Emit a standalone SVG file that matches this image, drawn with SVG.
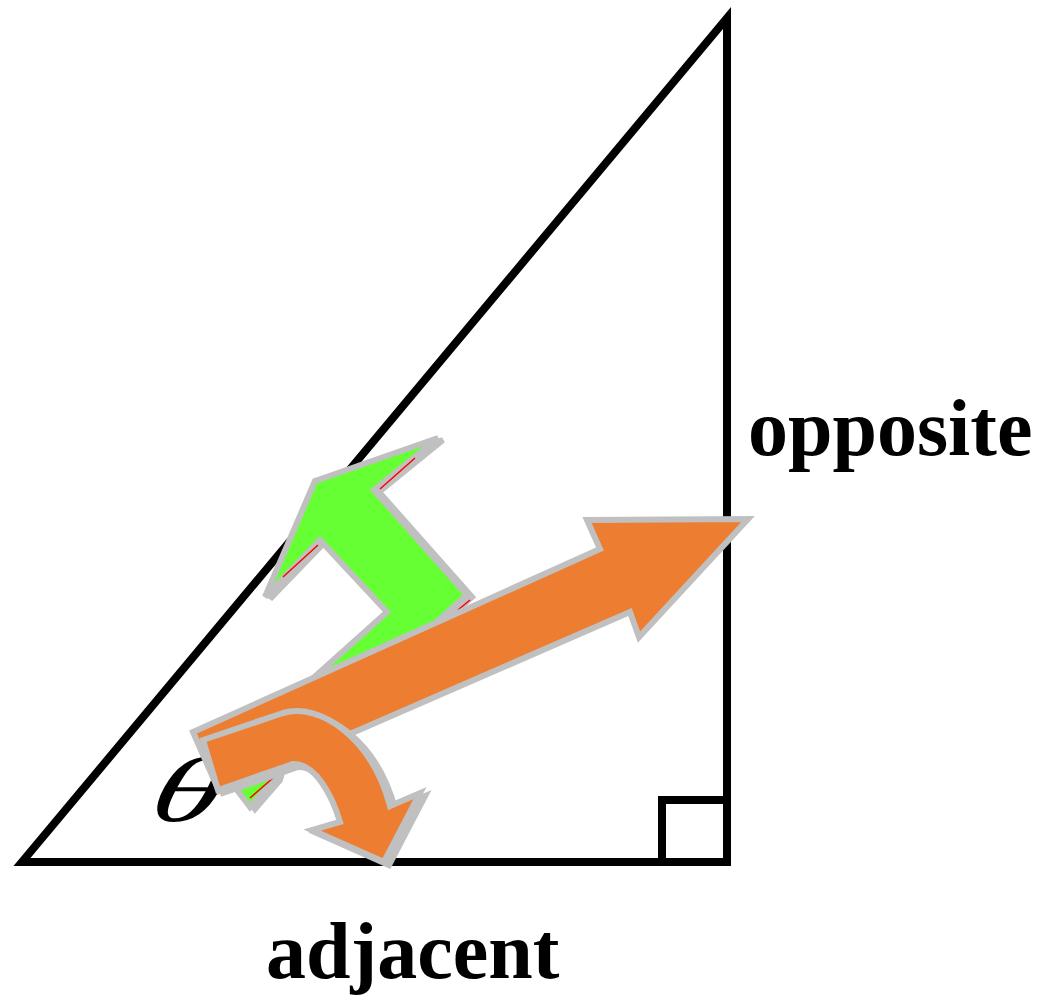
<svg xmlns="http://www.w3.org/2000/svg" width="1045" height="1000" viewBox="0 0 1045 1000">
<style>
.tri{fill:none;stroke:#000;stroke-width:8;stroke-linejoin:miter}
.lbl{font-family:"Liberation Serif","Times New Roman",serif;font-weight:bold;font-size:80px;fill:#000}
.ang{font-family:"Liberation Serif","Times New Roman",serif;font-style:italic;font-size:92px;fill:#000}
.shadow{fill:#c0c0c0;stroke:#c0c0c0;stroke-width:6;stroke-linejoin:miter}
.green{fill:#66ff33;stroke:#c0c0c0;stroke-width:6;stroke-linejoin:miter}
.orange{fill:#ed7d31;stroke:#c0c0c0;stroke-width:6;stroke-linejoin:miter}
.red{stroke:#ff0000;stroke-width:1.5;fill:none}
</style>
<rect width="1045" height="1000" fill="#fff"/>
<g id="triangle">
<path class="tri" d="M22,862 L727,862 L727,18 Z"/>
<rect class="tri" x="662" y="800" width="65" height="62"/>
</g>
<g id="labels">
<text class="lbl" x="748" y="455">opposite</text>
<text class="lbl" x="266" y="978">adjacent</text>
<text class="ang" transform="translate(146,821) scale(1.55,1) skewX(-10)" x="0" y="0">θ</text>
</g>
<g id="connectors">
<g id="green-arrow">
<polygon class="shadow" transform="translate(5,2)" points="315,481 438,438 374,490 467,595 290,753 237,790 250,807 275,778 300,690 387,612 320,540 265,597"/>
<polygon class="green" points="315,481 438,438 374,490 467,595 290,753 237,790 250,807 275,778 300,690 387,612 320,540 265,597"/>
<line class="red" x1="380" y1="489" x2="415" y2="458"/>
<line class="red" x1="283" y1="577" x2="318" y2="545"/>
<line class="red" x1="458" y1="610" x2="470" y2="600"/>
<line class="red" x1="250" y1="798" x2="273" y2="778"/>
</g>
<g id="straight-arrow">
<polygon class="orange" points="193,732 600,549 587,520 748,519 639,637 630,612 219,791"/>
</g>
<g id="curved-arrow">
<path class="shadow" transform="translate(5,3)" d="M203,740 L283,713 C320,702 372,738 390,806 L420,793 L384,862 L312,830 L340,822 C332,795 315,763 293,764 L218,790 Z"/>
<path class="orange" d="M203,740 L283,713 C320,702 372,738 390,806 L420,793 L384,862 L312,830 L340,822 C332,795 315,763 293,764 L218,790 Z"/>
</g>
</g>
</svg>
